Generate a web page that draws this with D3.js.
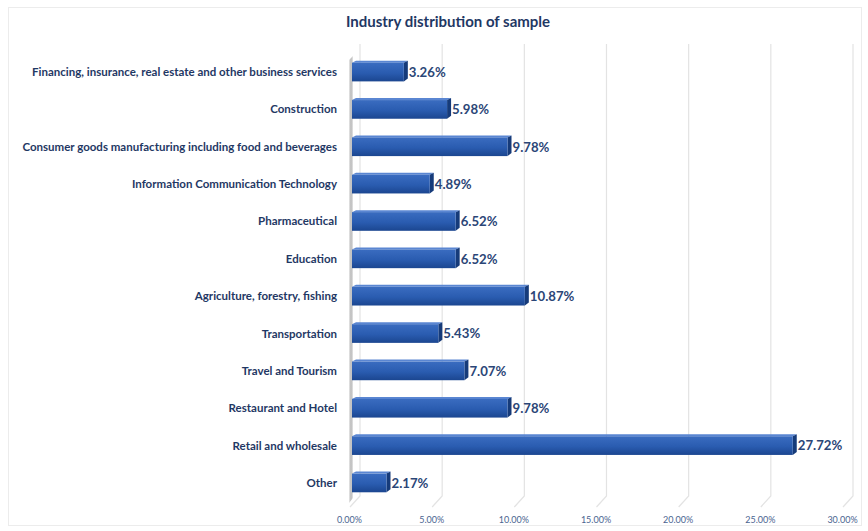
<!DOCTYPE html>
<html><head><meta charset="utf-8">
<script src="https://cdn.jsdelivr.net/npm/d3@7"></script>
<style>body{margin:0;background:#fff}svg{display:block}</style>
</head><body>
<script>
const categories = [
  "Financing, insurance, real estate and other business services",
  "Construction",
  "Consumer goods manufacturing including food and beverages",
  "Information Communication Technology",
  "Pharmaceutical",
  "Education",
  "Agriculture, forestry, fishing",
  "Transportation",
  "Travel and Tourism",
  "Restaurant and Hotel",
  "Retail and wholesale",
  "Other"
];
const values = [3.26, 5.98, 9.78, 4.89, 6.52, 6.52, 10.87, 5.43, 7.07, 9.78, 27.72, 2.17];
const tickValues = [0, 5, 10, 15, 20, 25, 30];
const title = "Industry distribution of sample";

const W = 868, H = 531;
const svg = d3.select("body").append("svg").attr("width", W).attr("height", H);
const defs = svg.append("defs");

const gFront = defs.append("linearGradient").attr("id","gf").attr("x1",0).attr("y1",0).attr("x2",0).attr("y2",1);
gFront.append("stop").attr("offset","0%").attr("stop-color","#3a6cc0");
gFront.append("stop").attr("offset","55%").attr("stop-color","#2a5cb0");
gFront.append("stop").attr("offset","100%").attr("stop-color","#1b4690");
const gWall = defs.append("linearGradient").attr("id","gw").attr("x1",0).attr("y1",0).attr("x2",1).attr("y2",0);
gWall.append("stop").attr("offset","0%").attr("stop-color","#e8e8e8");
gWall.append("stop").attr("offset","50%").attr("stop-color","#b9b9b9");
gWall.append("stop").attr("offset","100%").attr("stop-color","#e6e6e6");

// chart frame
svg.append("rect").attr("x",8.5).attr("y",7.5).attr("width",853).attr("height",518)
  .attr("fill","#fff").attr("stroke","#ececec");

// title
svg.append("text").attr("x",448).attr("y",27).attr("text-anchor","middle")
  .attr("font-family","Lato, 'Open Sans', sans-serif").attr("font-weight","bold")
  .attr("font-size",15).attr("fill","#1f3864").text(title);

// scales
const xBack = d3.scaleLinear().domain([0,30]).range([360, 853]);   // back wall gridlines
const xFront = d3.scaleLinear().domain([0,30]).range([352, 829]);  // bars (front plane)
const y = d3.scaleBand().domain(categories).range([53, 502]).paddingInner(0.5).paddingOuter(0.26);

// gridlines with floor slant
const grid = svg.append("g");
tickValues.forEach(v => {
  const xb = xBack(v);
  grid.append("path")
    .attr("d", `M${xb},44 L${xb},496 L${xb-10},507`)
    .attr("fill","none").attr("stroke","#e3e3e3").attr("stroke-width",1.2);
});

// left wall
svg.append("path").attr("d","M349,60 L353,56 L353,498 L349,503 Z").attr("fill","url(#gw)");

// tick labels
const axisG = svg.append("g").attr("transform","translate(-11,523)")
  .call(d3.axisBottom(xBack).tickValues(tickValues).tickSize(0).tickPadding(0)
    .tickFormat(d => d.toFixed(2) + "%"));
axisG.select(".domain").remove();
axisG.selectAll("text").attr("font-family","Lato, 'Open Sans', sans-serif")
  .attr("font-size",9).attr("fill","#4a6490").attr("dy",0);

// category labels
svg.append("g").selectAll("text").data(categories).join("text")
  .attr("x",337).attr("y",d => y(d) + y.bandwidth()/2 + 4)
  .attr("text-anchor","end")
  .attr("font-family","Lato, 'Open Sans', sans-serif").attr("font-weight","bold")
  .attr("font-size",11.5).attr("fill","#1f3864").text(d => d);

// bars
const depth = 4;
const bars = svg.append("g").selectAll("g").data(categories).join("g");
bars.each(function(d, i) {
  const g = d3.select(this);
  const x0 = xFront(0), x1 = xFront(values[i]);
  const yt = y(d), h = y.bandwidth();
  g.append("path").attr("d",`M${x0},${yt} L${x0+depth},${yt-2} L${x1+depth},${yt-2} L${x1},${yt} Z`)
    .attr("fill","#5a86d2");
  g.append("path").attr("d",`M${x1},${yt} L${x1+depth},${yt-2} L${x1+depth},${yt+h-3} L${x1},${yt+h} Z`)
    .attr("fill","#163b7a");
  g.append("rect").attr("x",x0).attr("y",yt).attr("width",x1-x0).attr("height",h)
    .attr("fill","url(#gf)");
  g.append("text").attr("x",x1+depth+1).attr("y",yt + h/2 + 4.8)
    .attr("font-family","Lato, 'Open Sans', sans-serif").attr("font-weight","bold")
    .attr("font-size",13.2).attr("fill","#2b4677").text(values[i].toFixed(2) + "%");
});
</script>
</body></html>
